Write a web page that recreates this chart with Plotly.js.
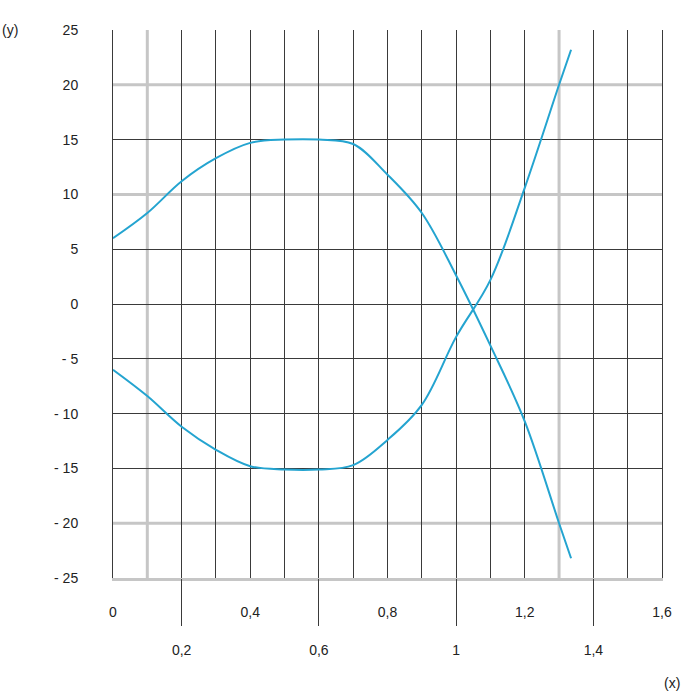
<!DOCTYPE html>
<html>
<head>
<meta charset="utf-8">
<script src="https://cdn.plot.ly/plotly-3.0.1.min.js"></script>
<style>html,body{margin:0;padding:0;background:#fff;}#chart{width:700px;height:700px;}</style>
</head>
<body>
<div id="chart"></div>
<script>
// Data
var xValues = [0, 0.1, 0.2, 0.3, 0.4, 0.5, 0.6, 0.7, 0.8, 0.9, 1.0, 1.1, 1.2, 1.3, 1.335];
var upperY  = [6, 8.3, 11.2, 13.3, 14.7, 15, 15, 14.6, 11.8, 8.3, 2.6, -3.8, -10.7, -20, -23.2];
var lowerY  = [-6, -8.4, -11.2, -13.3, -14.8, -15.1, -15.1, -14.7, -12.4, -9.2, -3.0, 2.2, 10.6, 20, 23.2];

// Tick labels
var xTopVals = [0, 0.4, 0.8, 1.2, 1.6];
var xTopText = ['0', '0,4', '0,8', '1,2', '1,6'];
var xBotVals = [0.2, 0.6, 1.0, 1.4];
var xBotText = ['0,2', '0,6', '1', '1,4'];
var yVals = [25, 20, 15, 10, 5, 0, -5, -10, -15, -20, -25];
var yText = ['25', '20', '15', '10', '5', '0', '- 5', '- 10', '- 15', '- 20', '- 25'];
// Grid lines: dark ones and lighter grey ones
var xDarkGrid = [0, 0.2, 0.3, 0.4, 0.5, 0.6, 0.7, 0.8, 0.9, 1.0, 1.1, 1.2, 1.4, 1.5, 1.6];
var yDarkGrid = [25, 15, 5, 0, -5, -10, -15];
var grayX = [0.1, 1.3];
var grayY = [20, 10, -20];

var lineColor = '#24a4d0';
var dark = '#3a3a3a';
var gray = '#c6c6c6';
var font = {family: 'Liberation Sans, Arial, sans-serif', size: 14, color: '#222'};

var traces = [
  {x: xValues, y: upperY, mode: 'lines', line: {color: lineColor, width: 2, shape: 'spline', smoothing: 1}, hoverinfo: 'skip'},
  {x: xValues, y: lowerY, mode: 'lines', line: {color: lineColor, width: 2, shape: 'spline', smoothing: 1}, hoverinfo: 'skip'},
  {x: [], y: [], xaxis: 'x2', yaxis: 'y', hoverinfo: 'skip'},
  {x: [], y: [], xaxis: 'x', yaxis: 'y2', hoverinfo: 'skip'}
];

var shapes = [];
grayX.forEach(function (v) {
  shapes.push({type: 'line', xref: 'x', yref: 'paper', x0: v, x1: v, y0: 0, y1: 1, layer: 'below', line: {color: gray, width: 3}});
});
grayY.forEach(function (v) {
  shapes.push({type: 'line', xref: 'paper', yref: 'y', x0: 0, x1: 1, y0: v, y1: v, layer: 'below', line: {color: gray, width: 3}});
});

var xTickText = xDarkGrid.map(function (v) {
  var i = xTopVals.findIndex(function (t) { return Math.abs(t - v) < 1e-9; });
  return i >= 0 ? xTopText[i] : '';
});

var layout = {
  width: 700, height: 700,
  margin: {l: 113, r: 38, t: 30, b: 122},
  paper_bgcolor: '#fff', plot_bgcolor: '#fff',
  showlegend: false,
  font: font,
  xaxis: {
    range: [0, 1.6], tickmode: 'array', tickvals: xDarkGrid, ticktext: xTickText,
    showgrid: true, gridcolor: dark, gridwidth: 1, zeroline: false,
    showline: true, linecolor: gray, linewidth: 3, mirror: false,
    ticks: '', ticklabelstandoff: 19, tickfont: font, fixedrange: true
  },
  xaxis2: {
    overlaying: 'x', matches: 'x', anchor: 'y', side: 'bottom', range: [0, 1.6],
    tickmode: 'array', tickvals: xBotVals, ticktext: xBotText,
    showgrid: false, zeroline: false, showline: false,
    ticks: 'outside', ticklen: 47, tickwidth: 1, tickcolor: dark,
    ticklabelstandoff: 12, tickfont: font
  },
  yaxis: {
    range: [-25, 25], tickmode: 'array', tickvals: yVals, ticktext: yText,
    showgrid: false, zeroline: false,
    showline: true, linecolor: dark, linewidth: 1, mirror: true,
    ticks: '', ticklabelstandoff: 31, tickfont: font, fixedrange: true
  },
  yaxis2: {
    overlaying: 'y', matches: 'y', anchor: 'x', side: 'left', range: [-25, 25],
    tickmode: 'array', tickvals: yDarkGrid, showticklabels: false,
    showgrid: true, gridcolor: dark, gridwidth: 1, zeroline: false, showline: false, ticks: ''
  },
  shapes: shapes,
  annotations: [
    {text: '(y)', xref: 'paper', yref: 'paper', x: -113/549, y: 1, xanchor: 'left', yanchor: 'middle', showarrow: false, font: font},
    {text: '(x)', xref: 'paper', yref: 'paper', x: 1 + 20/549, y: -105/548, xanchor: 'right', yanchor: 'middle', showarrow: false, font: font}
  ]
};

Plotly.newPlot('chart', traces, layout, {staticPlot: true, displayModeBar: false});
</script>
</body>
</html>
